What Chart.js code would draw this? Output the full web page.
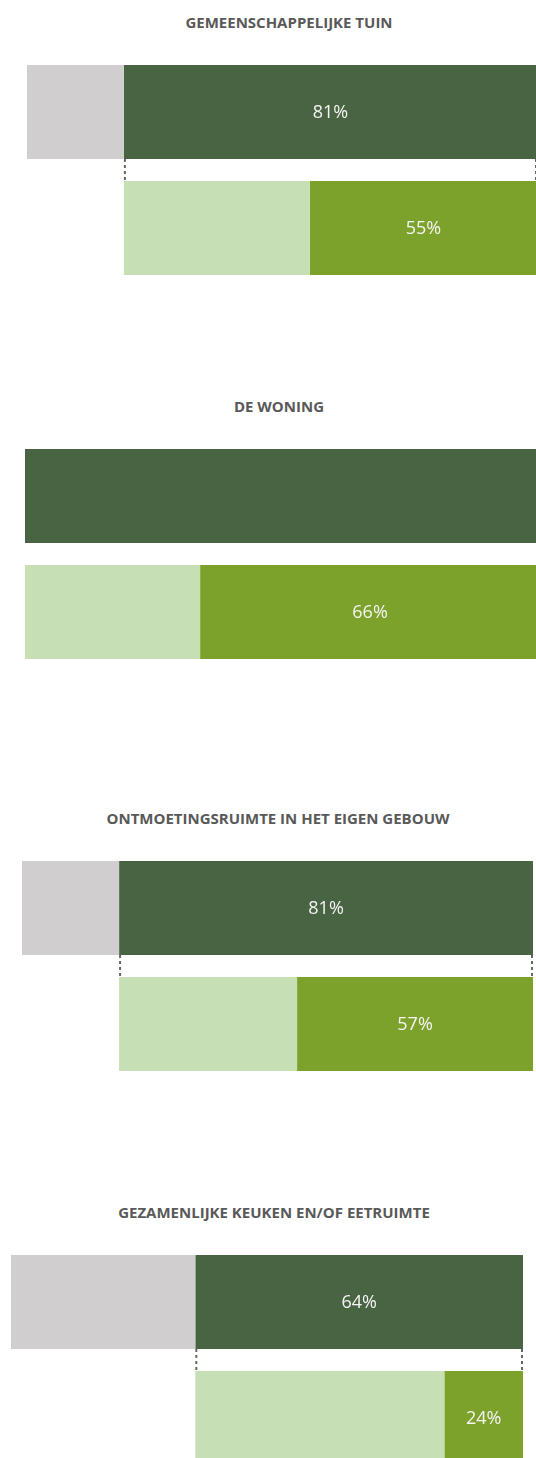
<!DOCTYPE html>
<html>
<head>
<meta charset="utf-8">
<script src="https://cdn.jsdelivr.net/npm/chart.js@4/dist/chart.umd.min.js"></script>
<style>
  html, body { margin: 0; padding: 0; background: #ffffff; }
  body { width: 536px; height: 1458px; position: relative; overflow: hidden; }
  .title {
    position: absolute; width: 460px; text-align: center; white-space: nowrap;
    font-family: "Open Sans", "DejaVu Sans", sans-serif; font-weight: 700;
    font-size: 15px; line-height: 20px; color: #595959;
  }
  canvas { position: absolute; }
</style>
</head>
<body>
<script>
// ---- data ----
const panelTitles = [
  "GEMEENSCHAPPELIJKE TUIN",
  "DE WONING",
  "ONTMOETINGSRUIMTE IN HET EIGEN GEBOUW",
  "GEZAMENLIJKE KEUKEN EN/OF EETRUIMTE"
];
const barRows = ["boven", "onder"];
const greyPct = [19, 0, 19, 36];          // grijs deel van de bovenste balk
const darkPct = [81, 100, 81, 64];        // donkergroen deel van de bovenste balk
const midPct  = [55, 66, 57, 24];         // groen deel van de onderste balk (t.o.v. donkergroen)
const darkLabelShown = [true, false, true, true];

// ---- layout (pixels) ----
const panelLeft   = [27, 25, 22, 11];
const panelWidth  = [510, 515, 511, 512];
const panelTop    = [54, 438, 850, 1244];
const panelHeight = 232;
const titleCenterX = [289, 279, 278, 274];
const titleCenterY = [22, 406, 818, 1212];

const colors = { grey: "#D0CECF", dark: "#496443", light: "#C6DFB5", mid: "#7DA22B" };

const labelPlugin = {
  id: "labels",
  afterDatasetsDraw(chart, args, opts) {
    const ctx = chart.ctx;
    ctx.save();
    ctx.font = '18px "Open Sans", "DejaVu Sans", sans-serif';
    ctx.fillStyle = "#F4F4F4";
    ctx.textAlign = "center";
    ctx.textBaseline = "middle";
    const darkEl = chart.getDatasetMeta(1).data[0];
    if (opts.showDark && darkEl) {
      ctx.fillText(opts.darkText, (darkEl.x + darkEl.base) / 2, darkEl.y + 1);
    }
    const midEl = chart.getDatasetMeta(3).data[1];
    if (midEl) {
      ctx.fillText(opts.midText, (midEl.x + midEl.base) / 2, midEl.y + 1);
    }
    ctx.restore();
  }
};

const connectorPlugin = {
  id: "connectors",
  afterDatasetsDraw(chart, args, opts) {
    if (!opts.show) return;
    const ctx = chart.ctx;
    const darkEl = chart.getDatasetMeta(1).data[0];
    const lightEl = chart.getDatasetMeta(2).data[1];
    if (!darkEl || !lightEl) return;
    const y1 = darkEl.y + darkEl.height / 2;
    const y2 = lightEl.y - lightEl.height / 2;
    ctx.save();
    ctx.strokeStyle = "#5F6B5C";
    ctx.lineWidth = 2;
    ctx.setLineDash([3, 3]);
    [Math.min(darkEl.base, darkEl.x) + 1, Math.max(darkEl.base, darkEl.x) - 1].forEach(x => {
      ctx.beginPath();
      ctx.moveTo(x, y1);
      ctx.lineTo(x, y2);
      ctx.stroke();
    });
    ctx.restore();
  }
};

panelTitles.forEach((t, i) => {
  const div = document.createElement("div");
  div.className = "title";
  div.textContent = t;
  div.style.left = (titleCenterX[i] - 230) + "px";
  div.style.top = (titleCenterY[i] - 10) + "px";
  document.body.appendChild(div);

  const canvas = document.createElement("canvas");
  canvas.width = panelWidth[i];
  canvas.height = panelHeight;
  canvas.style.left = panelLeft[i] + "px";
  canvas.style.top = panelTop[i] + "px";
  canvas.style.width = panelWidth[i] + "px";
  canvas.style.height = panelHeight + "px";
  document.body.appendChild(canvas);

  const g = greyPct[i];
  const d = darkPct[i];
  const split = g + d * (100 - midPct[i]) / 100;

  const base = { grouped: false, barPercentage: 0.81, categoryPercentage: 1, borderWidth: 0 };

  new Chart(canvas, {
    type: "bar",
    data: {
      labels: barRows,
      datasets: [
        Object.assign({ label: "grijs", data: [[0, g], null], backgroundColor: colors.grey }, base),
        Object.assign({ label: "donkergroen", data: [[g, g + d], null], backgroundColor: colors.dark }, base),
        Object.assign({ label: "lichtgroen", data: [null, [g, split]], backgroundColor: colors.light }, base),
        Object.assign({ label: "groen", data: [null, [split, g + d]], backgroundColor: colors.mid }, base)
      ]
    },
    options: {
      indexAxis: "y",
      responsive: false,
      animation: false,
      devicePixelRatio: 1,
      layout: { padding: 0 },
      scales: {
        x: { display: false, min: 0, max: 100 },
        y: { display: false }
      },
      plugins: {
        legend: { display: false },
        tooltip: { enabled: false },
        labels: { showDark: darkLabelShown[i], darkText: darkPct[i] + "%", midText: midPct[i] + "%" },
        connectors: { show: g > 0 }
      }
    },
    plugins: [labelPlugin, connectorPlugin]
  });
});
</script>
</body>
</html>
